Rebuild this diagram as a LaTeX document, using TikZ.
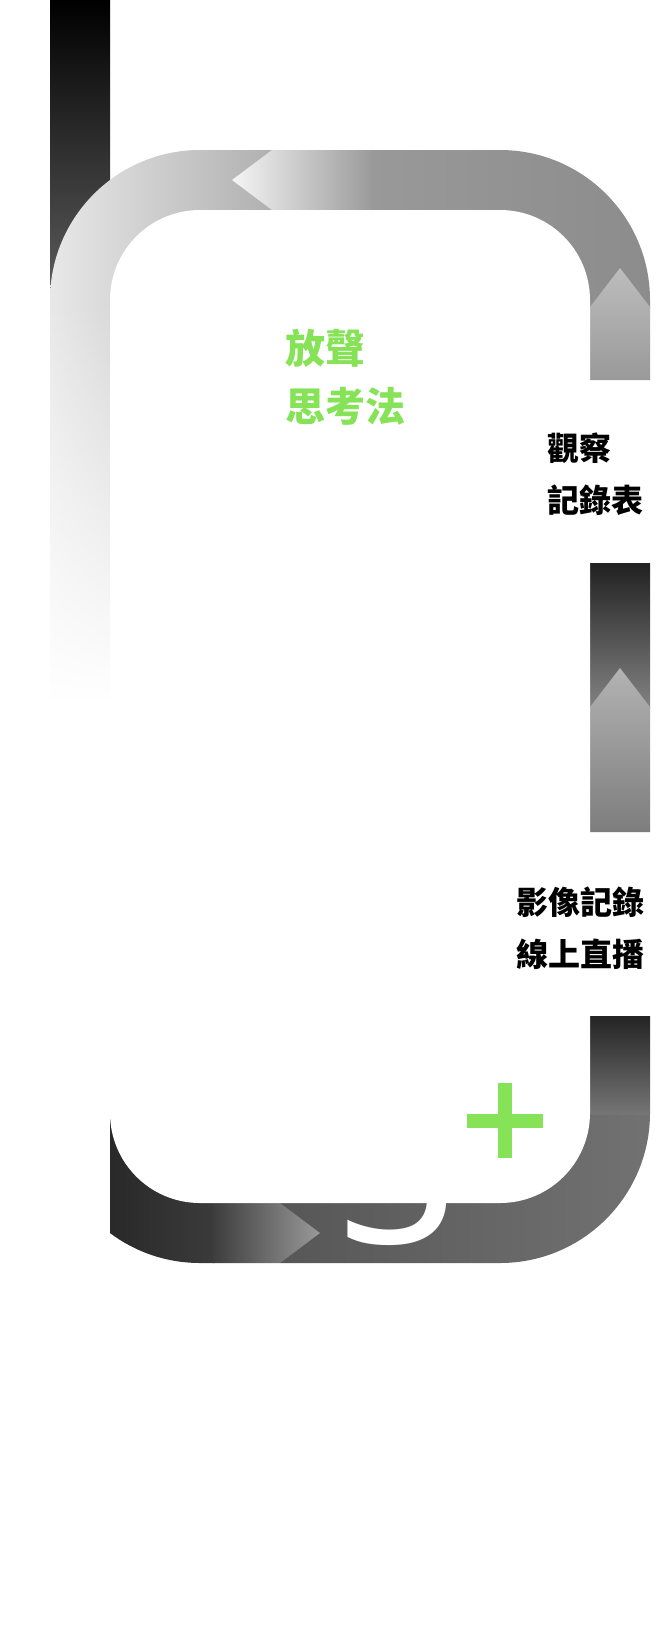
\documentclass[tikz,border=0pt]{standalone}
\usepackage{fontspec}
\newfontfamily\cjk{Noto Sans CJK TC}
\newfontfamily\numfont{Noto Sans}
\usetikzlibrary{fadings}
\definecolor{leafgreen}{HTML}{86E256}
\tikzfading[name=fadedown, top color=transparent!0, middle color=transparent!30, bottom color=transparent!100]
\tikzstyle{blacktext} = [inner sep=0pt, anchor=north west, align=left, font=\cjk\bfseries\fontsize{32}{52}\selectfont]
\tikzstyle{greentext} = [blacktext, text=leafgreen, font=\cjk\bfseries\fontsize{40}{58}\selectfont]
\tikzstyle{numtext} = [inner sep=0pt, anchor=base west, text=white, font=\numfont\fontsize{210}{210}\selectfont]

\begin{document}
\begin{tikzpicture}[x=1pt,y=-1pt]
    \fill[white] (0,0) rectangle (670,1644);
    \useasboundingbox (0,0) rectangle (670,1644);

    \shade[top color=black, bottom color=black!63] (50,0) rectangle (110,300);

    \begin{scope}
        \clip[rounded corners=150pt] (50,150) rectangle (650,1263);
        \shade[left color=black!9, right color=black!31] (50,0) rectangle (273,301);
        \shade[left color=black!9, right color=black!15, path fading=fadedown] (50,299) rectangle (110,700);
        \shade[left color=black!40, right color=black!46] (370,0) rectangle (700,308);
        \shade[left color=black!4, right color=black!39] (272,0) -- (371,0) -- (371,307) -- (272,307) -- (272,210) -- (232,180) -- (272,150) -- cycle;
        \shade[top color=black!26, bottom color=black!40] (560,307) -- (590,307) -- (620,268) -- (650,307) -- (700,307) -- (700,380) -- (560,380) -- cycle;
        \shade[top color=black!87, middle color=black!53, bottom color=black!49] (560,563) rectangle (700,708);
        \shade[top color=black!30, bottom color=black!51] (560,707) -- (590,707) -- (620,668) -- (650,707) -- (700,707) -- (700,832) -- (560,832) -- cycle;
        \shade[left color=black!66, right color=black!54] (280,1113) rectangle (700,1300);
        \shade[top color=black!86, middle color=black!56, bottom color=black!54] (560,1016) rectangle (700,1114);
        \shade[left color=black!84, right color=black!77] (110,1113) rectangle (214,1300);
        \shade[left color=black!76, middle color=black!45, right color=black!40] (213,1113) -- (280,1113) -- (280,1203) -- (320,1233) -- (280,1263) -- (280,1300) -- (213,1300) -- cycle;
        \node[numtext] (NO) at (338,1243) {3};
    \end{scope}
    \fill[white, rounded corners=90pt] (110,210) rectangle (590,1203);

    \node[greentext] (FS) at (285,329) {放聲\\思考法};
    \node[blacktext] (GC) at (547,433) {觀察\\記錄表};
    \node[blacktext] (YX) at (516,887) {影像記錄\\線上直播};

    \fill[leafgreen] (467,1114) rectangle (543,1128);
    \fill[leafgreen] (498,1083) rectangle (512,1158);
\end{tikzpicture}
\end{document}
